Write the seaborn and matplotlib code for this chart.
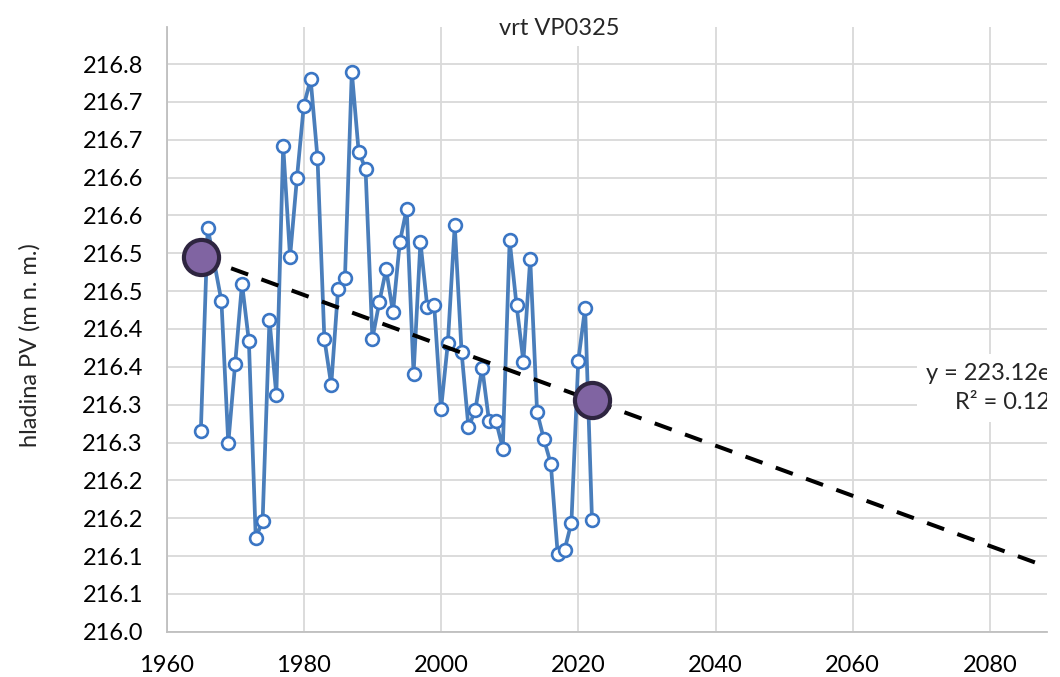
import matplotlib
matplotlib.use("Agg")
import matplotlib.pyplot as plt
import numpy as np
import pandas as pd
import seaborn as sns

# yearly groundwater level readings, borehole VP0325
years = [1965, 1966, 1968, 1969, 1970, 1971, 1972, 1973, 1974, 1975, 1976,
         1977, 1978, 1979, 1980, 1981, 1982, 1983, 1984, 1985, 1986, 1987,
         1988, 1989, 1990, 1991, 1992, 1993, 1994, 1995, 1996, 1997, 1998,
         1999, 2000, 2001, 2002, 2003, 2004, 2005, 2006, 2007, 2008, 2009,
         2010, 2011, 2012, 2013, 2014, 2015, 2016, 2017, 2018, 2019, 2020,
         2021, 2022]
levels = [216.265, 216.534, 216.437, 216.249, 216.354, 216.460, 216.384,
          216.124, 216.146, 216.412, 216.313, 216.642, 216.495, 216.599,
          216.695, 216.730, 216.626, 216.387, 216.326, 216.453, 216.467,
          216.740, 216.634, 216.612, 216.387, 216.435, 216.479, 216.422,
          216.515, 216.559, 216.341, 216.515, 216.429, 216.432, 216.294,
          216.382, 216.537, 216.369, 216.270, 216.293, 216.349, 216.278,
          216.279, 216.242, 216.517, 216.432, 216.357, 216.493, 216.290,
          216.254, 216.222, 216.103, 216.108, 216.144, 216.358, 216.428,
          216.148]

# exponential trend y = a*e^(b*x)
trend_a = 223.12
trend_b = -1.534e-5
trend_years = [1965, 2022]      # highlighted points on the trend
trend_span = [1965, 2088.3]

ytick_vals = [216.0, 216.05, 216.1, 216.15, 216.2, 216.25, 216.3, 216.35,
              216.4, 216.45, 216.5, 216.55, 216.6, 216.65, 216.7, 216.75]
ytick_labels = ["216.0", "216.1", "216.1", "216.2", "216.2", "216.3", "216.3",
                "216.4", "216.4", "216.5", "216.5", "216.6", "216.6", "216.7",
                "216.7", "216.8"]
xtick_vals = [1960, 1980, 2000, 2020, 2040, 2060, 2080]

sns.set_style("white")
plt.rcParams['font.family'] = ['Lato', 'DejaVu Sans']

df = pd.DataFrame({'rok': years, 'hladina': levels})
tx = np.linspace(trend_span[0], trend_span[1], 50)
trend = pd.DataFrame({'rok': tx, 'hladina': trend_a * np.exp(trend_b * tx)})
pts = pd.DataFrame({'rok': trend_years,
                    'hladina': trend_a * np.exp(trend_b * np.array(trend_years, dtype=float))})

fig = plt.figure(figsize=(10.6, 6.77), dpi=100)
ax = fig.add_axes([0.1571, 0.0669, 0.8306, 0.8932])

sns.lineplot(data=df, x='rok', y='hladina', ax=ax, color='#4A7EBB', lw=2.7,
             marker='o', markersize=9.2, markerfacecolor='white',
             markeredgecolor='#3B76C4', markeredgewidth=1.9, zorder=3)
sns.lineplot(data=trend, x='rok', y='hladina', ax=ax, color='black', lw=2.9,
             zorder=4).lines[-1].set_dashes((4.5, 3.5))
sns.scatterplot(data=pts, x='rok', y='hladina', ax=ax, s=640, color='#8064A2',
                edgecolor='#2E2540', linewidth=3.0, zorder=5)

ax.set_xlim(1960, 2088.3)
ax.set_ylim(216.0, 216.799)
ax.set_xticks(xtick_vals)
ax.set_yticks(ytick_vals)
ax.set_yticklabels(ytick_labels)
ax.tick_params(axis='both', length=0, labelsize=17, pad=17, colors='black')
ax.grid(True, color='#D9D9D9', lw=1.3)
ax.set_axisbelow(True)
for s in ['top', 'right']:
    ax.spines[s].set_visible(False)
for s in ['left', 'bottom']:
    ax.spines[s].set_color('#BFBFBF')
    ax.spines[s].set_linewidth(1.3)
ax.set_xlabel('')
ax.set_ylabel('')

ax.text(1.004, 0.403, "y = 223.12e\nR² = 0.12", transform=ax.transAxes,
        ha='right', va='center', multialignment='right', fontsize=17,
        linespacing=1.45, zorder=6, clip_on=True,
        bbox=dict(boxstyle='square,pad=0.4', facecolor='white', edgecolor='none'))

fig.text(0.528, 0.958, "vrt VP0325", ha='center', va='center', fontsize=17,
         bbox=dict(boxstyle='square,pad=0.3', facecolor='white', edgecolor='none'))
fig.text(0.028, 0.49, "hladina PV (m n. m.)", rotation=90, ha='center',
         va='center', fontsize=17)

fig.savefig('out.png', dpi=100)
